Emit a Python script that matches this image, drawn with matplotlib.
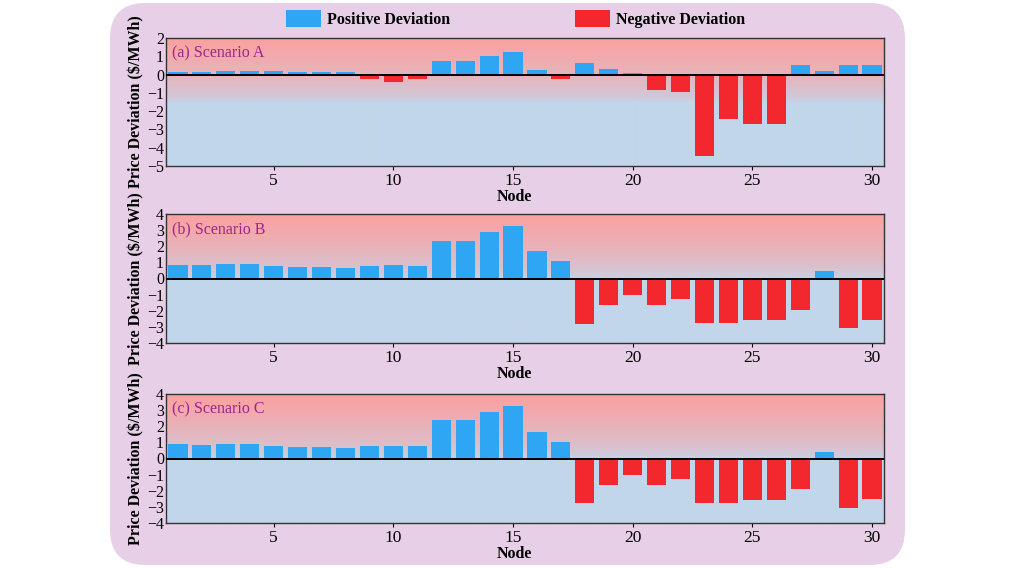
import numpy as np
import matplotlib
matplotlib.use("Agg")
import matplotlib.pyplot as plt
from matplotlib.patches import FancyBboxPatch, Patch
from matplotlib.colors import to_rgb

plt.rcParams['font.family'] = ['Liberation Serif', 'DejaVu Serif']
plt.rcParams['axes.unicode_minus'] = True

nodes = list(range(1, 31))
scenario_a = [0.15, 0.15, 0.2, 0.2, 0.17, 0.12, 0.12, 0.12, -0.25, -0.42,
              -0.25, 0.75, 0.75, 1.04, 1.26, 0.26, -0.25, 0.66, 0.31, 0.11,
              -0.84, -0.93, -4.45, -2.44, -2.69, -2.69, 0.53, 0.18, 0.53, 0.53]
scenario_b = [0.85, 0.85, 0.91, 0.91, 0.75, 0.73, 0.73, 0.66, 0.77, 0.81,
              0.77, 2.34, 2.34, 2.88, 3.25, 1.70, 1.06, -2.80, -1.66, -1.04,
              -1.66, -1.26, -2.76, -2.74, -2.55, -2.57, -1.93, 0.44, -3.09, -2.57]
scenario_c = [0.87, 0.81, 0.89, 0.93, 0.79, 0.72, 0.72, 0.66, 0.79, 0.79,
              0.79, 2.38, 2.38, 2.87, 3.26, 1.67, 1.05, -2.77, -1.63, -1.05,
              -1.63, -1.26, -2.77, -2.73, -2.56, -2.56, -1.90, 0.43, -3.04, -2.54]
panel_labels = ["(a) Scenario A", "(b) Scenario B", "(c) Scenario C"]
ylims = [(-5, 2), (-4, 4), (-4, 4)]
xticks = [5, 10, 15, 20, 25, 30]

POS = "#2EA6F3"
NEG = "#F3282F"
PINK = "#FBA1A1"
LBLUE = "#C2D6EB"
PURPLE_BG = "#E7CFE7"
LABEL_C = "#A0258A"

W, H = 1015, 569
fig = plt.figure(figsize=(W / 100, H / 100), dpi=100)
fig.patch.set_facecolor("white")

bg = FancyBboxPatch((110 / W, 4 / H), (905 - 110) / W, (566 - 4) / H,
                    boxstyle="round,pad=0,rounding_size=0.035",
                    transform=fig.transFigure, facecolor=PURPLE_BG,
                    edgecolor="none", zorder=-5, mutation_aspect=W / H)
fig.patches.append(bg)

# gradient image
N = 256
f = np.linspace(1, 0, N)  # top to bottom
w = np.clip((f - 0.5) / 0.5, 0, 1) ** 0.55
c1 = np.array(to_rgb(PINK))
c2 = np.array(to_rgb(LBLUE))
grad = (w[:, None] * c1 + (1 - w[:, None]) * c2)[:, None, :]

boxes = [(166, 38, 884, 166), (166, 214, 884, 343), (166, 394, 884, 523)]
series = [scenario_a, scenario_b, scenario_c]

for (x0, y0, x1, y1), vals, lab, yl in zip(boxes, series, panel_labels, ylims):
    ax = fig.add_axes([x0 / W, 1 - y1 / H, (x1 - x0) / W, (y1 - y0) / H])
    ax.imshow(grad, extent=[0, 1, 0, 1], transform=ax.transAxes,
              aspect="auto", zorder=0, interpolation="bilinear")
    vals = np.array(vals)
    colors = [POS if v >= 0 else NEG for v in vals]
    ax.bar(nodes, vals, width=0.8, color=colors, zorder=2)
    ax.axhline(0, color="black", lw=1.4, zorder=3)
    ax.set_xlim(0.5, 30.5)
    ax.set_ylim(*yl)
    ax.set_yticks(range(yl[0], yl[1] + 1))
    ax.set_xticks(xticks)
    ax.tick_params(axis="x", labelsize=12.5, length=3, width=0.8,
                   direction="out", pad=2)
    ax.tick_params(axis="y", labelsize=11.5, length=0, pad=1.5)
    for s in ax.spines.values():
        s.set_color("#333333")
        s.set_linewidth(1.0)
    ax.set_xlabel("Node", fontsize=11.5, fontweight="bold", labelpad=0, x=0.485)
    ax.set_ylabel("Price Deviation ($/MWh)", fontsize=11.5, fontweight="bold",
                  labelpad=2)
    ax.text(0.008, 0.88, lab, transform=ax.transAxes, fontsize=11.5,
            color=LABEL_C, va="center", ha="left", zorder=4)
    ax.set_facecolor("none")

handles = [Patch(facecolor=POS, label="Positive Deviation"),
           Patch(facecolor=NEG, label="Negative Deviation")]
fig.legend(handles=handles, loc="center", bbox_to_anchor=(515.5 / W, 1 - 19 / H),
           ncol=2, frameon=False, prop={'weight': 'bold', 'size': 11.5},
           handlelength=2.2, handleheight=1.2, handletextpad=0.35,
           columnspacing=7.8)

fig.savefig("out.png", dpi=100, facecolor="white")
